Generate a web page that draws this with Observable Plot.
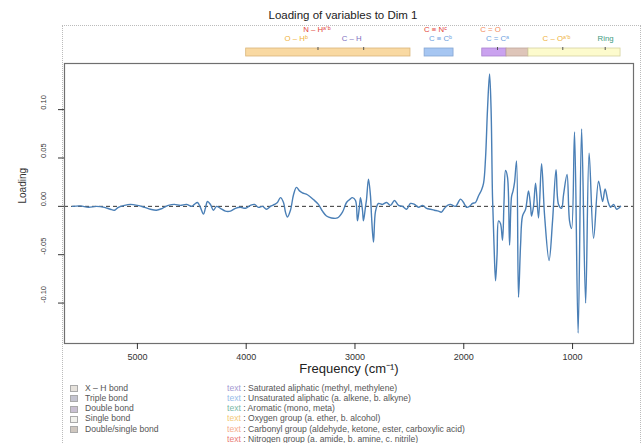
<!DOCTYPE html>
<html><head><meta charset="utf-8">
<script src="https://cdn.jsdelivr.net/npm/d3@7"></script>
<script src="https://cdn.jsdelivr.net/npm/@observablehq/plot@0.6"></script>
<style>
body{margin:0;background:#fff;font-family:"Liberation Sans",Arial,sans-serif;}
#wrap{position:relative;width:644px;height:443px;overflow:hidden;background:#fff;}
#box{position:absolute;left:62px;top:25px;width:577px;height:440px;border:1px dotted #bbb;}
#title{position:absolute;left:0;width:686px;top:9px;text-align:center;font-size:11.5px;color:#222;}
#header{position:absolute;left:0;top:22px;}
#main{position:absolute;left:0;top:58px;}
.lg{position:absolute;font-size:8.6px;color:#555;white-space:nowrap;line-height:9px;}
.sw{position:absolute;width:6px;height:5px;border:1px solid #aaa;}
</style>
</head><body>
<div id="wrap">
  <div id="box"></div>
  <div id="title">Loading of variables to Dim 1</div>
  <div id="header"></div>
  <div id="main"></div>
  <div id="legend"></div>
</div>
<script>
// ---- spectrum (wavenumber cm-1, loading) ----
const wavenumber = [5598,5524,5450,5377,5303,5248,5211,5175,5119,5064,5000,4935,4880,4825,4770,4715,4660,4604,4549,4503,4476,4448,4421,4393,4375,4356,4329,4301,4273,4237,4191,4145,4099,4053,4007,3961,3924,3887,3850,3814,3777,3740,3713,3685,3657,3639,3621,3593,3565,3538,3510,3483,3437,3382,3336,3299,3262,3216,3161,3115,3078,3050,3023,2995,2977,2959,2949,2931,2922,2903,2894,2876,2857,2848,2830,2811,2784,2747,2710,2673,2637,2600,2563,2526,2490,2453,2416,2379,2342,2306,2269,2232,2205,2177,2149,2122,2076,2030,2002,1975,1947,1920,1892,1864,1837,1818,1800,1782,1763,1749,1736,1722,1708,1694,1680,1662,1644,1630,1616,1598,1579,1561,1547,1533,1515,1497,1478,1460,1432,1405,1386,1377,1359,1340,1313,1285,1257,1216,1184,1152,1129,1101,1083,1051,1028,1009,982,949,917,880,848,807,761,724,701,674,651,623,595,559];
const loading = [0,0.0005,-0.001,0,-0.001,-0.003,-0.004,-0.001,0.001,0.002,0.001,-0.001,-0.003,-0.004,-0.002,0.001,0.002,0.001,0.002,0,0.002,0.004,-0.001,-0.008,-0.002,0.005,0.002,-0.004,0,-0.002,-0.005,-0.005,-0.002,-0.001,-0.002,0.001,0.002,-0.001,0,-0.003,0,0.002,0.004,0.009,0.004,-0.006,-0.011,-0.004,0.012,0.0196,0.016,0.014,0.012,0.007,0.002,-0.005,-0.010,-0.012,-0.012,-0.006,0.004,0.007,0.009,0.006,-0.015,0,0.009,-0.004,-0.015,0,0.007,0.028,0.010,-0.010,-0.037,-0.005,0.003,0.002,0.004,0.001,0.006,0.001,0,-0.003,0.003,0.002,-0.001,0.001,-0.002,-0.003,-0.004,-0.005,-0.006,-0.002,0.001,0.002,0,0.0075,0.004,-0.001,0,0.003,0.004,0.011,0.017,0.024,0.05,0.10,0.137,0.10,0.01,-0.04,-0.077,-0.05,-0.015,-0.018,-0.035,0.005,0.037,0.030,-0.040,0.010,0.016,0.025,0.047,-0.094,-0.040,-0.010,-0.003,0.016,0,-0.010,0,0.024,-0.012,0.044,-0.010,-0.056,-0.015,0.038,0.002,-0.002,0.012,0.033,-0.015,-0.023,0.077,-0.131,0.080,-0.100,0.055,-0.033,0.026,0.005,0.018,0.005,-0.001,0.002,-0.003,0];

const xTicks = [5000, 4000, 3000, 2000, 1000];
const yTicks = [-0.10, -0.05, 0.00, 0.05, 0.10];

// ---- band annotation (bond type regions, cm-1) ----
const bandNames = ["X\u2013H bond", "Triple bond", "Double bond", "Double/single bond", "Single bond"];
const bandFrom  = [4000, 2360, 1830, 1607, 1405];
const bandTo    = [2490, 2094, 1607, 1405, 559];
const bandFill  = ["#f9d9a2", "#a6c6f2", "#caa2ef", "#dec5b9", "#fdfbcd"];
const bandEdge  = ["#d9b57a", "#86a6d2", "#aa82cf", "#bea599", "#d5d3a0"];

// ---- functional group labels ----
const groupText  = ["N \u2013 H\u1D43\u02BC\u1D47", "C \u2261 N\u1D9C", "C = O", "O \u2013 H\u1D47", "C \u2013 H", "C \u2261 C\u1D47", "C = C\u1D43", "C \u2013 O\u1D43\u02BC\u1D47", "Ring"];
const groupPos   = [3350, 2260, 1754, 3540, 3030, 2214, 1690, 1147, 697];
const groupRow   = ["r1", "r1", "r1", "r2", "r2", "r2", "r2", "r2", "r2"];
const groupClass = ["Nitrogen", "Nitrogen", "Carbonyl", "Oxygen", "Saturated", "Unsaturated", "Unsaturated", "Oxygen", "Aromatic"];
const peakMarks  = [3340, 2920, 1690, 1090, 700];

const classNames  = ["Saturated", "Unsaturated", "Aromatic", "Oxygen", "Carbonyl", "Nitrogen"];
const classColors = ["#7d6fc0", "#6aa0e0", "#3e9a80", "#efb23a", "#f28a5c", "#e2453a"];
const classDesc = [
  "Saturated aliphatic (methyl, methylene)",
  "Unsaturated aliphatic (a. alkene, b. alkyne)",
  "Aromatic (mono, meta)",
  "Oxygen group (a. ether, b. alcohol)",
  "Carbonyl group (aldehyde, ketone, ester, carboxylic acid)",
  "Nitrogen group (a. amide, b. amine, c. nitrile)"
];
const legendBond = ["X \u2013 H bond", "Triple bond", "Double bond", "Single bond", "Double/single bond"];
const legendSwatch = ["#e6e2dc", "#c4c4d0", "#c9c0d2", "#f1f1ec", "#cfc7bf"];

const xDomain = [5670, 440];
const font = '"Liberation Sans", Arial, sans-serif';

const spectrum = wavenumber.map((w, i) => ({w, v: loading[i]}));
const bands = bandNames.map((n, i) => ({n, x1: bandFrom[i], x2: bandTo[i], fill: bandFill[i], edge: bandEdge[i]}));
const groups = groupText.map((t, i) => ({t, x: groupPos[i], row: groupRow[i], c: groupClass[i]}));

const header = Plot.plot({
  width: 644, height: 36, marginLeft: 64, marginRight: 11, marginTop: 0, marginBottom: 0,
  x: {domain: xDomain, axis: null},
  y: {type: "point", domain: ["r1", "r2"], range: [6.5, 16], padding: 0, axis: null},
  color: {domain: classNames, range: classColors},
  style: {fontFamily: font, background: "transparent", overflow: "visible"},
  marks: [
    Plot.rect(bands, {x1: "x1", x2: "x2", fill: "fill", stroke: "edge", strokeWidth: 0.8, insetTop: 26, insetBottom: 2}),
    Plot.tickX(peakMarks, {x: d => d, stroke: "#555", strokeWidth: 1, insetTop: 25, insetBottom: 8}),
    Plot.text(groups, {x: "x", y: "row", text: "t", fill: "c", fontSize: 7.8})
  ]
});
document.getElementById("header").appendChild(header);

const main = Plot.plot({
  width: 644, height: 322, marginLeft: 64, marginRight: 11, marginTop: 5, marginBottom: 37,
  x: {domain: xDomain},
  y: {domain: [-0.1418, 0.1477]},
  style: {fontFamily: font, fontSize: "9px", color: "#333", background: "transparent", overflow: "visible"},
  marks: [
    Plot.ruleY([0], {stroke: "#333", strokeWidth: 1, strokeDasharray: "4,3"}),
    Plot.line(spectrum, {x: "w", y: "v", stroke: "#4a7fb6", strokeWidth: 1.4, curve: "catmull-rom"}),
    Plot.frame({stroke: "#6f6f6f", strokeWidth: 1.2}),
    Plot.axisX({ticks: xTicks, tickSize: 6, tickPadding: 4, tickFormat: d => String(d), label: null, fontSize: 9}),
    Plot.axisY({ticks: yTicks, tickSize: 6, tickFormat: () => "", label: null}),
    Plot.text(yTicks, {y: d => d, text: d => d.toFixed(2), frameAnchor: "left", dx: -21, rotate: -90, fontSize: 7.5, fill: "#333"}),
    Plot.text(["Loading"], {frameAnchor: "left", dx: -42, rotate: -90, fontSize: 10, fill: "#333"}),
    Plot.text(["Frequency (cm\u207B\u00B9)"], {frameAnchor: "bottom", dy: 29, fontSize: 13, fill: "#222"})
  ]
});
document.getElementById("main").appendChild(main);

// legend
const lg = document.getElementById("legend");
legendBond.forEach((b, i) => {
  const top = 383.5 + i * 10.3;
  const s = document.createElement("div");
  s.className = "sw"; s.style.left = "70px"; s.style.top = (top + 1.5) + "px"; s.style.background = legendSwatch[i];
  lg.appendChild(s);
  const t = document.createElement("div");
  t.className = "lg"; t.style.left = "85px"; t.style.top = top + "px"; t.textContent = b;
  lg.appendChild(t);
});
classDesc.forEach((d, i) => {
  const top = 383.5 + i * 10.3;
  const t = document.createElement("div");
  t.className = "lg"; t.style.left = "227px"; t.style.top = top + "px";
  const k = document.createElement("span"); k.style.color = classColors[i]; k.style.opacity = 0.7; k.textContent = "text";
  t.appendChild(k); t.appendChild(document.createTextNode(" : " + d));
  lg.appendChild(t);
});
</script>
</body></html>
